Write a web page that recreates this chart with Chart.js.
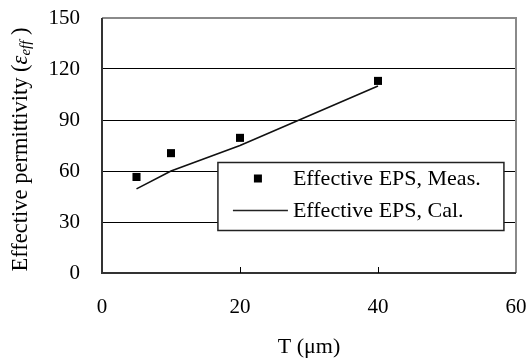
<!DOCTYPE html>
<html>
<head>
<meta charset="utf-8">
<script src="https://cdn.jsdelivr.net/npm/chart.js@4.4.0/dist/chart.umd.min.js"></script>
<style>
  html, body { margin: 0; padding: 0; background: #fff; }
  #wrap { width: 528px; height: 360px; }
</style>
</head>
<body>
<div id="wrap"><canvas id="chart" width="528" height="360"></canvas></div>
<script>
// thickness T (um) and permittivity values
const thickness = [5, 10, 20, 40];
const measured = [56.5, 70.5, 79.5, 113];
const calculated = [49.5, 60, 75, 110];

const xTicks = [0, 20, 40, 60];
const yTicks = [0, 30, 60, 90, 120, 150];

const legendLabels = ['Effective EPS, Meas.', 'Effective EPS, Cal.'];

const serif = "'Liberation Serif', 'Times New Roman', serif";

const framePlugin = {
    id: 'frame',
    afterDraw(chart) {
        const ctx = chart.ctx;
        const a = chart.chartArea;
        const xs = chart.scales.x;
        const ys = chart.scales.y;
        ctx.save();
        // top + right border (grey)
        ctx.strokeStyle = '#8a8a8a';
        ctx.lineWidth = 2;
        ctx.beginPath();
        ctx.moveTo(a.left, a.top);
        ctx.lineTo(a.right, a.top);
        ctx.lineTo(a.right, a.bottom);
        ctx.stroke();
        // left + bottom axis lines (dark)
        ctx.strokeStyle = '#333';
        ctx.beginPath();
        ctx.moveTo(a.left, a.top);
        ctx.lineTo(a.left, a.bottom);
        ctx.lineTo(a.right, a.bottom);
        ctx.stroke();
        // inward tick marks on x
        ctx.lineWidth = 1;
        ctx.strokeStyle = '#000';
        xTicks.slice(1, -1).forEach(v => {
            const px = Math.round(xs.getPixelForValue(v)) + 0.5;
            ctx.beginPath();
            ctx.moveTo(px, a.bottom);
            ctx.lineTo(px, a.bottom - 6);
            ctx.stroke();
        });

        // legend box
        const lx = xs.getPixelForValue(16.8);
        const ly = ys.getPixelForValue(65);
        const lw = 286, lh = 68;
        ctx.fillStyle = '#fff';
        ctx.fillRect(lx, ly, lw, lh);
        ctx.strokeStyle = '#222';
        ctx.lineWidth = 1.5;
        ctx.strokeRect(lx, ly, lw, lh);

        ctx.fillStyle = '#000';
        ctx.font = '22px ' + serif;
        ctx.textBaseline = 'middle';
        ctx.textAlign = 'left';
        const r1 = ly + 16, r2 = ly + 48;
        ctx.fillRect(lx + 36, r1 - 4, 8, 8);
        ctx.fillText(legendLabels[0], lx + 75, r1 + 1);
        ctx.lineWidth = 1.5;
        ctx.beginPath();
        ctx.moveTo(lx + 15, r2);
        ctx.lineTo(lx + 70, r2);
        ctx.stroke();
        ctx.fillText(legendLabels[1], lx + 75, r2 + 1);

        // y axis title with italic epsilon_eff
        const cy = (a.top + a.bottom) / 2 + 4;
        ctx.translate(21, cy);
        ctx.rotate(-Math.PI / 2);
        const partA = 'Effective permittivity (';
        const eps = 'ε';
        const sub = 'eff';
        const partB = ' )';
        ctx.font = '22.5px ' + serif;
        const wA = ctx.measureText(partA).width;
        const wB = ctx.measureText(partB).width;
        ctx.font = 'italic 22.5px ' + serif;
        const wE = ctx.measureText(eps).width;
        ctx.font = 'italic 15px ' + serif;
        const wS = ctx.measureText(sub).width;
        let x0 = -(wA + wE + wS + wB) / 2;
        ctx.textBaseline = 'middle';
        ctx.font = '22.5px ' + serif;
        ctx.fillText(partA, x0, 0);
        x0 += wA;
        ctx.font = 'italic 22.5px ' + serif;
        ctx.fillText(eps, x0, 0);
        x0 += wE;
        ctx.font = 'italic 15px ' + serif;
        ctx.fillText(sub, x0, 5);
        x0 += wS;
        ctx.font = '22.5px ' + serif;
        ctx.fillText(partB, x0, 0);
        ctx.restore();
    }
};

new Chart(document.getElementById('chart'), {
    type: 'scatter',
    data: {
        datasets: [{
            label: legendLabels[0],
            data: thickness.map((t, i) => ({ x: t, y: measured[i] })),
            pointStyle: 'rect',
            pointRadius: 5.7,
            pointBorderWidth: 0,
            backgroundColor: '#000',
            borderColor: '#000',
            showLine: false,
            order: 1
        }, {
            label: legendLabels[1],
            data: thickness.map((t, i) => ({ x: t, y: calculated[i] })),
            showLine: true,
            pointRadius: 0,
            borderColor: '#111',
            borderWidth: 1.6,
            order: 2
        }]
    },
    options: {
        responsive: false,
        animation: false,
        layout: { padding: { top: 18, right: 12, left: 0, bottom: 0 } },
        plugins: {
            legend: { display: false },
            tooltip: { enabled: false }
        },
        scales: {
            x: {
                type: 'linear',
                min: 0,
                max: 60,
                afterBuildTicks: s => { s.ticks = xTicks.map(v => ({ value: v })); },
                afterFit: s => { s.height = 87; s.paddingLeft = 0; s.paddingRight = 0; },
                grid: { display: false, drawTicks: false },
                border: { display: false },
                ticks: {
                    color: '#000',
                    padding: 22,
                    maxRotation: 0,
                    font: { family: serif, size: 21 }
                },
                title: {
                    display: true,
                    text: 'T (μm)',
                    color: '#000',
                    font: { family: serif, size: 22 },
                    padding: { top: 13, bottom: 0 }
                }
            },
            y: {
                min: 0,
                max: 150,
                afterBuildTicks: s => { s.ticks = yTicks.map(v => ({ value: v })); },
                afterFit: s => { s.width = 102; s.paddingTop = 0; s.paddingBottom = 0; },
                grid: { color: '#000', lineWidth: 1, drawTicks: false },
                border: { display: false },
                ticks: {
                    color: '#000',
                    padding: 22,
                    font: { family: serif, size: 21 }
                }
            }
        }
    },
    plugins: [framePlugin]
});
</script>
</body>
</html>
